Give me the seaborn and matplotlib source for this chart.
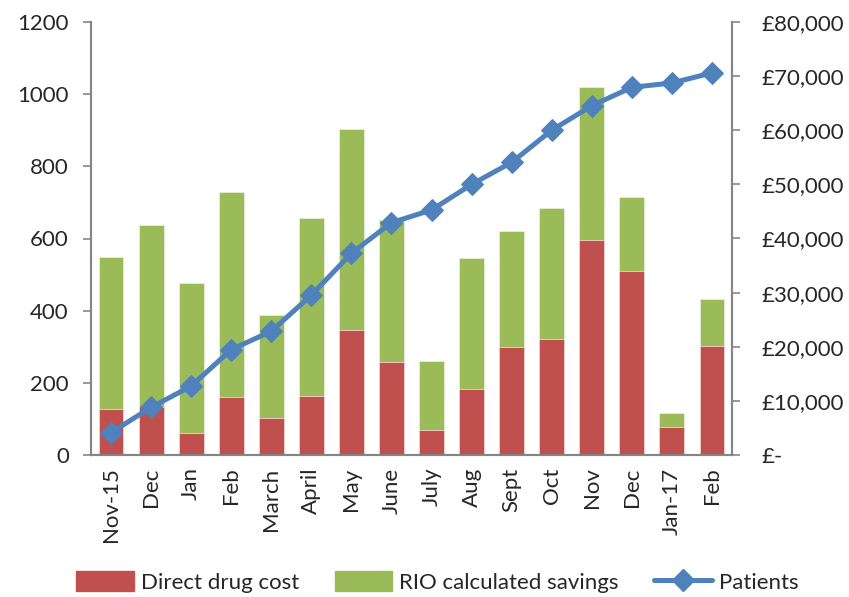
import matplotlib
matplotlib.use("Agg")
import matplotlib.pyplot as plt
import seaborn as sns
import pandas as pd
import numpy as np
from matplotlib.patches import Patch
from matplotlib.lines import Line2D
from matplotlib.ticker import FuncFormatter, FixedLocator

months = ["Nov-15", "Dec", "Jan", "Feb", "March", "April", "May", "June",
          "July", "Aug", "Sept", "Oct", "Nov", "Dec", "Jan-17", "Feb"]
direct_drug_cost = [8550, 8800, 4120, 10770, 6890, 10960, 23150, 17130,
                    4620, 12250, 20010, 21490, 39670, 34050, 5170, 20200]
rio_savings = [28050, 33750, 27720, 37830, 18980, 32780, 37080, 26240,
               12750, 24090, 21320, 24150, 28270, 13560, 2590, 8620]
patients = [62, 132, 191, 292, 343, 443, 559, 644,
            679, 750, 811, 900, 968, 1019, 1031, 1059]

sns.set_style("white")
plt.rcParams['font.family'] = ['Lato', 'DejaVu Sans']

RED = "#C0504D"
GREEN = "#9BBB59"
BLUE = "#4F81BD"
GREY = "#868686"

idx = list(range(len(months)))
df = pd.DataFrame({"i": idx, "direct": direct_drug_cost,
                   "total": np.array(direct_drug_cost) + np.array(rio_savings),
                   "patients": patients})

fig = plt.figure(figsize=(8.49, 5.97), dpi=100)
ax = fig.add_axes([91/849, 1-455/597, (732-91)/849, (455-22)/597])
ax2 = ax.twinx()

# bars on the right (£) axis
sns.barplot(data=df, x="i", y="total", color=GREEN, saturation=1, width=0.62,
            ax=ax2, edgecolor="#E6EFD5", linewidth=0.6)
sns.barplot(data=df, x="i", y="direct", color=RED, saturation=1, width=0.62,
            ax=ax2, edgecolor="#F0D5D4", linewidth=0.6)

# patients line on the left axis
sns.lineplot(data=df, x="i", y="patients", ax=ax, color=BLUE, linewidth=3.6,
             marker="D", markersize=11, markeredgecolor=BLUE, legend=False)

ax.set_zorder(ax2.get_zorder() + 1)
ax.patch.set_visible(False)

ax.set_ylim(0, 1200)
ax2.set_ylim(0, 80000)
ax.set_xlim(-0.5, len(months) - 0.5)
ax2.set_xlim(-0.5, len(months) - 0.5)

ax.set_yticks(range(0, 1201, 200))
ax2.set_yticks(range(0, 80001, 10000))
ax2.yaxis.set_major_formatter(FuncFormatter(
    lambda v, p: "£-" if v == 0 else "£{:,.0f}".format(v)))

ax.set_xticks(idx)
ax.set_xticklabels(months, rotation=90)
ax.xaxis.set_minor_locator(FixedLocator(np.arange(-0.5, len(months), 1)))
ax.tick_params(axis="x", which="major", length=0, pad=9, labelsize=16)
ax.tick_params(axis="x", which="minor", length=6, width=1.2, color=GREY, direction="out")
ax.tick_params(axis="y", length=6, width=1.2, color=GREY, direction="out", labelsize=16, pad=10)
ax2.tick_params(axis="y", length=6, width=1.2, color=GREY, direction="out", labelsize=16, pad=15)
ax2.tick_params(axis="x", length=0, labelbottom=False)

for a in (ax, ax2):
    a.set_xlabel("")
    a.set_ylabel("")
    a.spines["top"].set_visible(False)
    for s in ("left", "right", "bottom"):
        a.spines[s].set_color(GREY)
        a.spines[s].set_linewidth(1.5)

handles = [Patch(facecolor=RED, edgecolor=RED),
           Patch(facecolor=GREEN, edgecolor=GREEN),
           Line2D([0], [0], color=BLUE, linewidth=3.6, marker="D", markersize=11)]
fig.legend(handles, ["Direct drug cost", "RIO calculated savings", "Patients"],
           loc="center", bbox_to_anchor=(0.515, 0.025), ncol=3, frameon=False,
           fontsize=16, handlelength=2.6, handleheight=1.0, columnspacing=1.6,
           handletextpad=0.3, borderpad=0.1)

fig.savefig("out.png", dpi=100)
